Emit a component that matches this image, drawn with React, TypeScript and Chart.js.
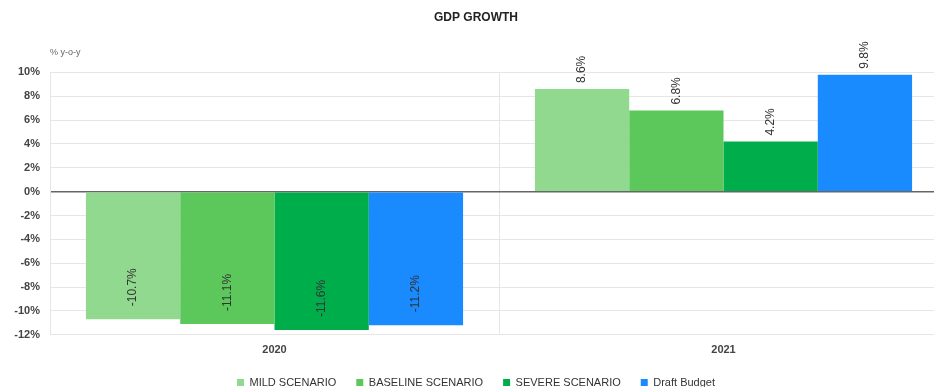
import React, { useEffect, useRef } from "react";
import { Chart, registerables } from "chart.js";

Chart.register(...registerables);

const categories = ["2020", "2021"];
const seriesNames = ["MILD SCENARIO", "BASELINE SCENARIO", "SEVERE SCENARIO", "Draft Budget"];
const mild = [-10.7, 8.6];
const baseline = [-11.1, 6.8];
const severe = [-11.6, 4.2];
const draftBudget = [-11.2, 9.8];
const seriesColors = ["#91D98E", "#5CC85C", "#00AD4B", "#1A8AFF"];
const yMin = -12;
const yMax = 10;
const yStep = 2;
const axisUnitLabel = "% y-o-y";
const chartTitle = "GDP GROWTH";

const valueLabelPlugin = {
  id: "valueLabels",
  afterDatasetsDraw(chart: any) {
    const ctx = chart.ctx;
    ctx.save();
    ctx.font = "12px 'Liberation Sans', Arial, sans-serif";
    ctx.fillStyle = "#333";
    ctx.textBaseline = "middle";
    ctx.textAlign = "left";
    chart.data.datasets.forEach((ds: any, di: number) => {
      const meta = chart.getDatasetMeta(di);
      meta.data.forEach((bar: any, i: number) => {
        const v = ds.data[i];
        const txt = v.toFixed(1) + "%";
        const y = v >= 0 ? bar.y - 6 : bar.y - 13;
        ctx.save();
        ctx.translate(bar.x, y);
        ctx.rotate(-Math.PI / 2);
        ctx.fillText(txt, 0, 0);
        ctx.restore();
      });
    });
    const ca = chart.chartArea;
    ctx.font = "9px 'Liberation Sans', Arial, sans-serif";
    ctx.fillStyle = "#666";
    ctx.textAlign = "left";
    ctx.fillText(axisUnitLabel, ca.left, ca.top - 20);
    ctx.restore();
  },
};

export default function App() {
  const ref = useRef<HTMLCanvasElement>(null);
  useEffect(() => {
    document.body.style.overflow = "hidden";
    const seriesData = [mild, baseline, severe, draftBudget];
    const chart = new Chart(ref.current as HTMLCanvasElement, {
      type: "bar",
      data: {
        labels: categories,
        datasets: seriesNames.map((name, i) => ({
          label: name,
          data: seriesData[i],
          backgroundColor: seriesColors[i],
          borderWidth: 0,
          barPercentage: 1,
          categoryPercentage: 0.84,
        })),
      },
      options: {
        animation: false,
        responsive: false,
        maintainAspectRatio: false,
        layout: { padding: { left: 4, right: 4, top: 0, bottom: 2 } },
        plugins: {
          title: {
            display: true,
            text: chartTitle,
            color: "#222",
            font: { family: "'Liberation Sans', Arial, sans-serif", size: 12, weight: "bold" },
            padding: { top: 10, bottom: 48 },
          },
          legend: {
            position: "bottom",
            labels: {
              boxWidth: 7,
              boxHeight: 7,
              padding: 20,
              color: "#333",
              font: { family: "'Liberation Sans', Arial, sans-serif", size: 11 },
            },
          },
          tooltip: { enabled: false },
        },
        scales: {
          x: {
            afterFit: (s: any) => {
              s.height = s.height - 9;
            },
            grid: { color: "#e6e6e6", drawTicks: false, offset: true },
            border: { display: false },
            ticks: {
              color: "#444",
              padding: 9,
              font: { family: "'Liberation Sans', Arial, sans-serif", size: 11, weight: "bold" },
            },
          },
          y: {
            min: yMin,
            max: yMax,
            afterFit: (s: any) => {
              s.width = 46;
            },
            grid: {
              drawTicks: false,
              color: (c: any) => (c.tick && c.tick.value === 0 ? "#666" : "#e6e6e6"),
              lineWidth: (c: any) => (c.tick && c.tick.value === 0 ? 1.5 : 1),
            },
            border: { display: true, color: "#e6e6e6" },
            ticks: {
              stepSize: yStep,
              color: "#444",
              padding: 10,
              font: { family: "'Liberation Sans', Arial, sans-serif", size: 11, weight: "bold" },
              callback: (v: any) => v + "%",
            },
          },
        },
      },
      plugins: [valueLabelPlugin],
    });
    return () => chart.destroy();
  }, []);
  return (
    <div style={{ position: "fixed", left: 0, top: 0, width: 952, height: 400, background: "#fff" }}>
      <canvas ref={ref} width={952} height={400} style={{ width: 952, height: 400, display: "block" }} />
    </div>
  );
}
